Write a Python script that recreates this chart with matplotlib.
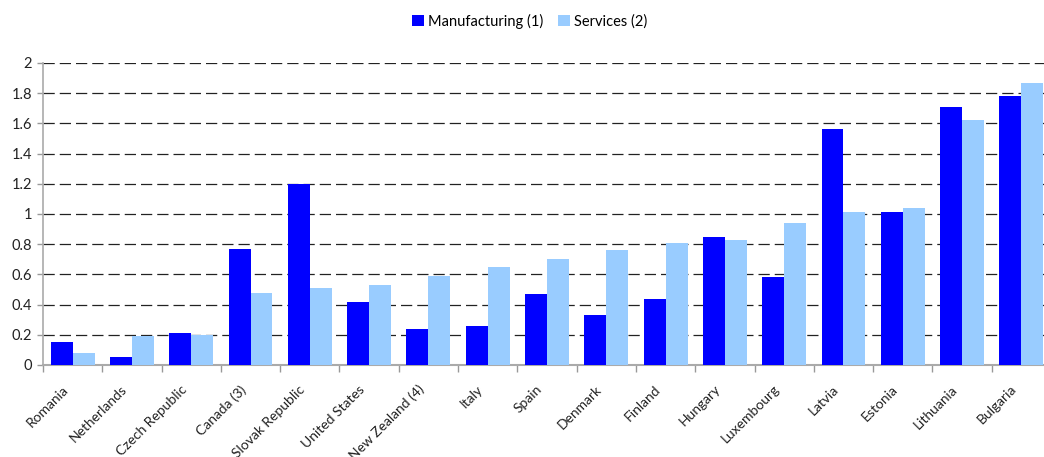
import matplotlib
matplotlib.use("Agg")
import matplotlib.pyplot as plt
import matplotlib.transforms as mtransforms
import numpy as np

countries = ["Romania", "Netherlands", "Czech Republic", "Canada (3)", "Slovak Republic",
             "United States", "New Zealand (4)", "Italy", "Spain", "Denmark", "Finland",
             "Hungary", "Luxembourg", "Latvia", "Estonia", "Lithuania", "Bulgaria"]
manufacturing = [0.15, 0.05, 0.21, 0.77, 1.20, 0.42, 0.24, 0.26, 0.47, 0.33, 0.44,
                 0.85, 0.58, 1.56, 1.01, 1.71, 1.78]
services = [0.08, 0.19, 0.20, 0.48, 0.51, 0.53, 0.59, 0.65, 0.70, 0.76, 0.81,
            0.83, 0.94, 1.01, 1.04, 1.62, 1.87]
yticks = [0, 0.2, 0.4, 0.6, 0.8, 1, 1.2, 1.4, 1.6, 1.8, 2]
ytick_labels = ["0", "0.2", "0.4", "0.6", "0.8", "1", "1.2", "1.4", "1.6", "1.8", "2"]

plt.rcParams["font.family"] = ["Lato", "DejaVu Sans"]

W, H = 1044, 457
fig = plt.figure(figsize=(W / 100, H / 100), dpi=100)
left, right, top, bottom = 43, 1051, 63, 365
ax = fig.add_axes([left / W, (H - bottom) / H, (right - left) / W, (bottom - top) / H])

x = np.arange(len(countries))
bw = 0.37
ax.bar(x - bw / 2, manufacturing, bw, color="#0000FF", label="Manufacturing (1)", zorder=3)
ax.bar(x + bw / 2, services, bw, color="#99CCFF", label="Services (2)", zorder=3)

ax.set_xlim(-0.5, len(countries) - 0.5)
ax.set_ylim(0, 2)
ax.set_yticks(yticks)
ax.set_yticklabels(ytick_labels, fontsize=10.5, color="#222222")
ax.yaxis.grid(True, linestyle=(0, (9, 4)), color="#222222", linewidth=0.9, zorder=0)

ax.set_xticks(x)
ax.set_xticklabels(countries, rotation=45, ha="right", rotation_mode="anchor",
                   fontsize=10, color="#222222")
ax.tick_params(axis="x", which="major", length=0, pad=13)
shift = mtransforms.ScaledTranslation(-11 / 100, 0, fig.dpi_scale_trans)
for lab in ax.get_xticklabels():
    lab.set_transform(lab.get_transform() + shift)
ax.set_xticks(np.arange(-0.5, len(countries), 1.0), minor=True)
ax.tick_params(axis="x", which="minor", length=5, color="#999999", width=1)
ax.tick_params(axis="y", length=4, color="#999999", width=1, pad=4)

for s in ["top", "right"]:
    ax.spines[s].set_visible(False)
ax.spines["left"].set_color("#aaaaaa")
ax.spines["bottom"].set_color("#aaaaaa")
ax.spines["bottom"].set_linewidth(1.5)
ax.spines["left"].set_linewidth(1.2)

fig.legend(loc="center", bbox_to_anchor=(530 / W, 1 - 21 / H), ncol=2, frameon=False,
           fontsize=10.5, handlelength=0.8, handleheight=0.8, handletextpad=0.3,
           columnspacing=1.0)

fig.savefig("out.png", dpi=100)
